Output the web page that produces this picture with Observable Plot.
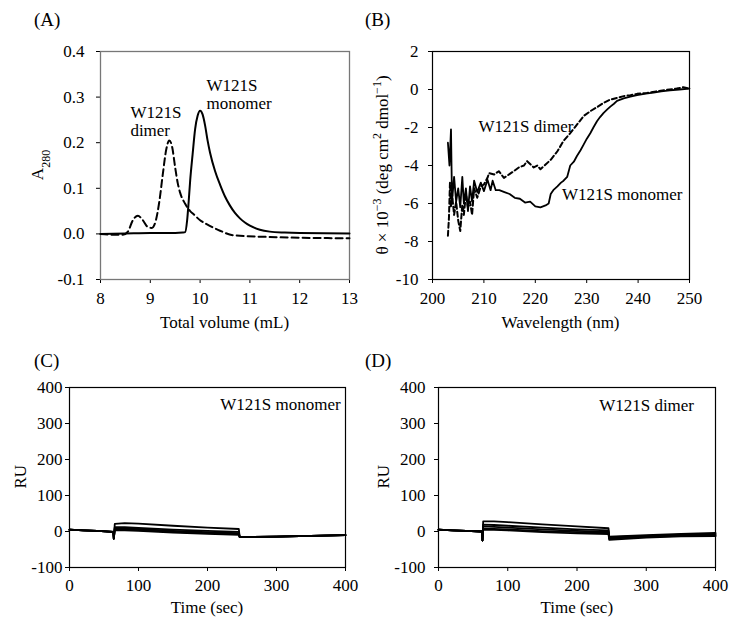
<!DOCTYPE html>
<html><head><meta charset="utf-8">
<script src="https://cdn.jsdelivr.net/npm/d3@7"></script>
<script src="https://cdn.jsdelivr.net/npm/@observablehq/plot@0.6"></script>
<style>
body{margin:0;background:#fff;}
#fig{position:relative;width:737px;height:626px;font-family:"Liberation Serif",serif;color:#000;background:#fff;overflow:hidden;}
.panel{position:absolute;}
.plab{position:absolute;font-size:19px;line-height:19px;}
</style></head><body><div id="fig"></div>
<script>
// ---------- Panel A: size-exclusion chromatogram ----------
const volMono = [8.0,8.5,9.0,9.5,9.65,9.70,9.74,9.77,9.80,9.85,9.90,9.95,10.0,10.05,10.1,10.15,10.2,10.3,10.4,10.5,10.6,10.7,10.8,10.9,11.0,11.2,11.4,11.7,12.0,13.0];
const absMono = [0.000,0.001,0.002,0.002,0.003,0.004,0.030,0.070,0.116,0.175,0.230,0.259,0.270,0.262,0.238,0.205,0.178,0.138,0.108,0.082,0.062,0.046,0.034,0.025,0.018,0.009,0.005,0.003,0.002,0.001];
const volDim = [8.0,8.3,8.45,8.55,8.65,8.75,8.85,8.95,9.03,9.1,9.18,9.25,9.32,9.38,9.44,9.5,9.55,9.6,9.7,9.8,9.87,10.0,10.14,10.4,10.67,11.34,12.0,13.0];
const absDim = [0.0,-0.002,-0.002,0.005,0.030,0.040,0.030,0.015,0.013,0.025,0.070,0.130,0.185,0.205,0.190,0.145,0.112,0.090,0.066,0.050,0.043,0.030,0.021,0.007,-0.003,-0.0066,-0.0085,-0.0095];
const xTicksA = [8,9,10,11,12,13];
const yTicksA = [-0.1,0.0,0.1,0.2,0.3,0.4];
const labA_text = ["W121S","monomer","W121S","dimer"];
const labA_x = [10.13,10.13,8.60,8.60];
const labA_y = [0.314,0.275,0.255,0.215];

// ---------- Panel B: CD spectra ----------
const wlMono = [203.0,203.3,203.6,203.8,204.2,204.6,205.0,205.4,205.8,206.1,206.5,206.9,207.3,207.7,208.1,208.7,209.4,210.0,210.7,211.3,211.7,212.3,213.0,214.0,215.0,216.0,217.0,218.0,219.0,220.0,221.0,222.0,222.6,223.0,223.5,224.3,225.0,225.5,226.2,226.8,227.5,228.1,228.8,229.4,230.0,230.7,231.3,232.0,232.6,233.3,234.0,234.6,235.3,235.9,237.2,238.5,239.8,241.5,243.0,244.5,246.2,248.0,250.0];
const thMono = [-2.8,-4.0,-2.1,-5.9,-4.6,-5.9,-5.2,-6.2,-4.6,-6.0,-5.2,-6.4,-5.1,-5.9,-4.8,-5.4,-4.9,-5.35,-4.75,-5.3,-4.8,-5.3,-5.3,-5.4,-5.5,-5.7,-5.75,-5.95,-5.9,-6.15,-6.2,-6.1,-6.0,-5.5,-5.3,-5.1,-4.9,-4.8,-4.6,-4.0,-3.8,-3.5,-3.2,-2.9,-2.6,-2.3,-2.0,-1.67,-1.45,-1.23,-1.05,-0.9,-0.75,-0.6,-0.47,-0.38,-0.3,-0.22,-0.17,-0.1,-0.05,0.0,0.05];
const wlDim = [203.0,203.2,203.4,203.6,203.8,204.2,204.6,205.0,205.4,205.8,206.1,206.5,206.9,207.3,207.7,208.1,208.7,209.4,210.0,210.7,211.0,212.0,212.9,213.9,214.9,215.8,216.8,217.8,218.4,219.1,219.7,220.4,221.0,222.0,223.0,224.3,225.5,226.8,228.1,229.4,230.7,232.0,233.3,234.6,235.9,237.2,238.5,239.8,241.7,243.7,245.6,247.5,248.8,250.0];
const thDim = [-7.7,-6.75,-4.9,-6.2,-5.5,-6.6,-5.9,-6.9,-7.45,-6.05,-6.6,-5.5,-6.2,-5.9,-6.6,-5.2,-5.7,-5.1,-5.0,-4.65,-4.4,-4.47,-4.3,-4.65,-4.47,-4.3,-4.1,-4.0,-3.77,-3.95,-4.1,-4.0,-4.2,-3.95,-3.7,-3.25,-2.7,-2.3,-1.85,-1.4,-1.14,-0.93,-0.7,-0.53,-0.44,-0.35,-0.3,-0.23,-0.18,-0.09,-0.02,0.05,0.12,0.05];
const xTicksB = [200,210,220,230,240,250];
const yTicksB = [-10,-8,-6,-4,-2,0,2];
const labB_text = ["W121S dimer","W121S monomer"];
const labB_x = [208.95,225.2];
const labB_y = [-2.25,-5.84];

// ---------- Panels C & D: SPR sensorgrams ----------
const tPreC = [0,20,40,63.5,64.2];
const vPreC = [5,3.3,1.5,-1,-20];
const tAssocC = [65.6,80,100,150,200,245.4];
const vAssocC = [
  [21,23,22,16,11,7],
  [12,12,10,5,1.5,-1],
  [9,9,7,2,-2,-4.5],
  [6,6,4,-1,-4.5,-7],
  [3,3,1.5,-3,-6.5,-9]
];
const tPostC = [246.6,250,300,350,400];
const vPostC = [-15,-15.5,-14,-12,-10];

const tPreD = [0,20,40,62.5,63.5];
const vPreD = [5,3.3,1.6,0,-25];
const tAssocD = [64.5,80,100,150,200,245.5];
const vAssocD = [
  [28,28,26,20,14,9],
  [19,18,16,11,6,3],
  [14,13,11,6,2,-1],
  [8,7.5,6,1,-2,-4],
  [5,4.5,3,-2,-5,-7]
];
const tPostD = [246.5,300,350,400];
const vPostD = [
  [-14,-10,-7,-4],
  [-16,-12,-9,-6.5],
  [-18,-13.5,-10.5,-9],
  [-20,-15,-12,-11],
  [-23,-17,-13.5,-13]
];
const xTicksSPR = [0,100,200,300,400];
const yTicksSPR = [-100,0,100,200,300,400];
const labC = {text:"W121S monomer", t:393, v:338};
const labD = {text:"W121S dimer", t:369, v:335};

// ---------- helpers ----------
const serif = '"Liberation Serif", serif';
const fig = document.getElementById("fig");
const style = () => ({fontFamily: serif, fontSize: "17px", background: "white", color: "black", overflow: "visible"});
const zip = (xs, ys) => xs.map((x, i) => ({x, y: ys[i]}));
function place(el, left, top) {
  const d = document.createElement("div");
  d.className = "panel"; d.style.left = left + "px"; d.style.top = top + "px";
  d.appendChild(el); fig.appendChild(d); return el;
}
function panelLabel(txt, left, top) {
  const d = document.createElement("div");
  d.className = "plab"; d.textContent = txt;
  d.style.left = left + "px"; d.style.top = top + "px"; fig.appendChild(d);
}
function title(svg, x, y, rotate, parts, size = 17) {
  const t = d3.select(svg).append("text")
    .attr("transform", `translate(${x},${y})` + (rotate ? " rotate(-90)" : ""))
    .attr("text-anchor", "middle").attr("font-size", size).attr("fill", "black")
    .attr("font-family", serif).attr("dy", rotate ? "0.35em" : null);
  parts.forEach(p => {
    const ts = t.append("tspan").text(p.t);
    if (p.sub) ts.attr("baseline-shift", "sub").attr("font-size", Math.round(size * 0.68));
    if (p.sup) ts.attr("baseline-shift", "super").attr("font-size", Math.round(size * 0.68));
  });
}
function sprRows(tPre, vPre, tAssoc, vAssoc, tPost, vPost) {
  const rows = [];
  vAssoc.forEach((va, s) => {
    tPre.forEach((t, i) => rows.push({s, t, v: vPre[i]}));
    tAssoc.forEach((t, i) => rows.push({s, t, v: va[i]}));
    const vp = Array.isArray(vPost[0]) ? vPost[s] : vPost;
    tPost.forEach((t, i) => rows.push({s, t, v: vp[i]}));
  });
  return rows;
}

// ---------- Panel A ----------
const svgA = Plot.plot({
  width: 370, height: 335, marginLeft: 100, marginRight: 21, marginTop: 51, marginBottom: 56,
  style: style(),
  x: {domain: [8, 13], ticks: xTicksA, tickSize: 4, tickPadding: 8, tickFormat: d => String(d), label: null},
  y: {domain: [-0.1, 0.4], ticks: yTicksA, tickSize: 4, tickPadding: 12, tickFormat: d => d.toFixed(1), label: null},
  marks: [
    Plot.frame({stroke: "#777", strokeWidth: 1.3}),
    Plot.line(zip(volDim, absDim), {x: "x", y: "y", stroke: "black", strokeWidth: 2, strokeDasharray: "7,4", curve: "monotone-x"}),
    Plot.line(zip(volMono, absMono), {x: "x", y: "y", stroke: "black", strokeWidth: 2, curve: "monotone-x"}),
    Plot.text(labA_text.map((t, i) => ({t, x: labA_x[i], y: labA_y[i]})), {x: "x", y: "y", text: "t", textAnchor: "start", lineAnchor: "bottom", fontSize: 17, fill: "black"})
  ]
});
place(svgA, 0, 0);
title(svgA, 37, 165, true, [{t: "A"}, {t: "280", sub: true}]);
title(svgA, 224.5, 328, false, [{t: "Total volume (mL)"}]);
panelLabel("(A)", 34, 10);

// ---------- Panel B ----------
const svgB = Plot.plot({
  width: 367, height: 335, marginLeft: 62, marginRight: 48, marginTop: 51, marginBottom: 56,
  style: style(),
  x: {domain: [200, 250], ticks: xTicksB, tickSize: 4, tickPadding: 8, tickFormat: d => String(d), label: null},
  y: {domain: [-10, 2], ticks: yTicksB, tickSize: 4, tickPadding: 10, tickFormat: d => String(d), label: null},
  marks: [
    Plot.frame({stroke: "black", strokeWidth: 1.2}),
    Plot.line(zip(wlDim, thDim), {x: "x", y: "y", stroke: "black", strokeWidth: 2, strokeDasharray: "5,3"}),
    Plot.line(zip(wlMono, thMono), {x: "x", y: "y", stroke: "black", strokeWidth: 1.8}),
    Plot.text(labB_text.map((t, i) => ({t, x: labB_x[i], y: labB_y[i]})), {x: "x", y: "y", text: "t", textAnchor: "start", lineAnchor: "bottom", fontSize: 17, fill: "black"})
  ]
});
place(svgB, 370, 0);
title(svgB, 12, 165, true, [{t: "θ × 10"}, {t: "−3", sup: true}, {t: " (deg cm"}, {t: "2", sup: true}, {t: " dmol"}, {t: "−1", sup: true}, {t: ")"}]);
title(svgB, 190.5, 328, false, [{t: "Wavelength (nm)"}]);
panelLabel("(B)", 365, 10);

// ---------- Panel C ----------
const svgC = Plot.plot({
  width: 370, height: 291, marginLeft: 69, marginRight: 25, marginTop: 52, marginBottom: 59,
  style: style(),
  x: {domain: [0, 400], ticks: xTicksSPR, tickSize: 4, tickPadding: 7, tickFormat: d => String(d), label: null},
  y: {domain: [-100, 400], ticks: yTicksSPR, tickSize: 4, tickPadding: 3, tickFormat: d => String(d), label: null},
  marks: [
    Plot.frame({stroke: "black", strokeWidth: 1.2}),
    Plot.line(sprRows(tPreC, vPreC, tAssocC, vAssocC, tPostC, vPostC), {x: "t", y: "v", z: "s", stroke: "black", strokeWidth: 1.8}),
    Plot.text([labC], {x: "t", y: "v", text: "text", textAnchor: "end", lineAnchor: "bottom", fontSize: 17, fill: "black"})
  ]
});
place(svgC, 0, 335);
title(svgC, 20, 141.7, true, [{t: "RU"}]);
title(svgC, 207, 278, false, [{t: "Time (sec)"}]);
panelLabel("(C)", 34, 351);

// ---------- Panel D ----------
const svgD = Plot.plot({
  width: 367, height: 291, marginLeft: 68, marginRight: 22, marginTop: 52, marginBottom: 59,
  style: style(),
  x: {domain: [0, 400], ticks: xTicksSPR, tickSize: 4, tickPadding: 7, tickFormat: d => String(d), label: null},
  y: {domain: [-100, 400], ticks: yTicksSPR, tickSize: 4, tickPadding: 9, tickFormat: d => String(d), label: null},
  marks: [
    Plot.frame({stroke: "black", strokeWidth: 1.2}),
    Plot.line(sprRows(tPreD, vPreD, tAssocD, vAssocD, tPostD, vPostD), {x: "t", y: "v", z: "s", stroke: "black", strokeWidth: 1.8}),
    Plot.text([labD], {x: "t", y: "v", text: "text", textAnchor: "end", lineAnchor: "bottom", fontSize: 17, fill: "black"})
  ]
});
place(svgD, 370, 335);
title(svgD, 13, 141.7, true, [{t: "RU"}]);
title(svgD, 206.8, 278, false, [{t: "Time (sec)"}]);
panelLabel("(D)", 365, 351);
</script></body></html>
